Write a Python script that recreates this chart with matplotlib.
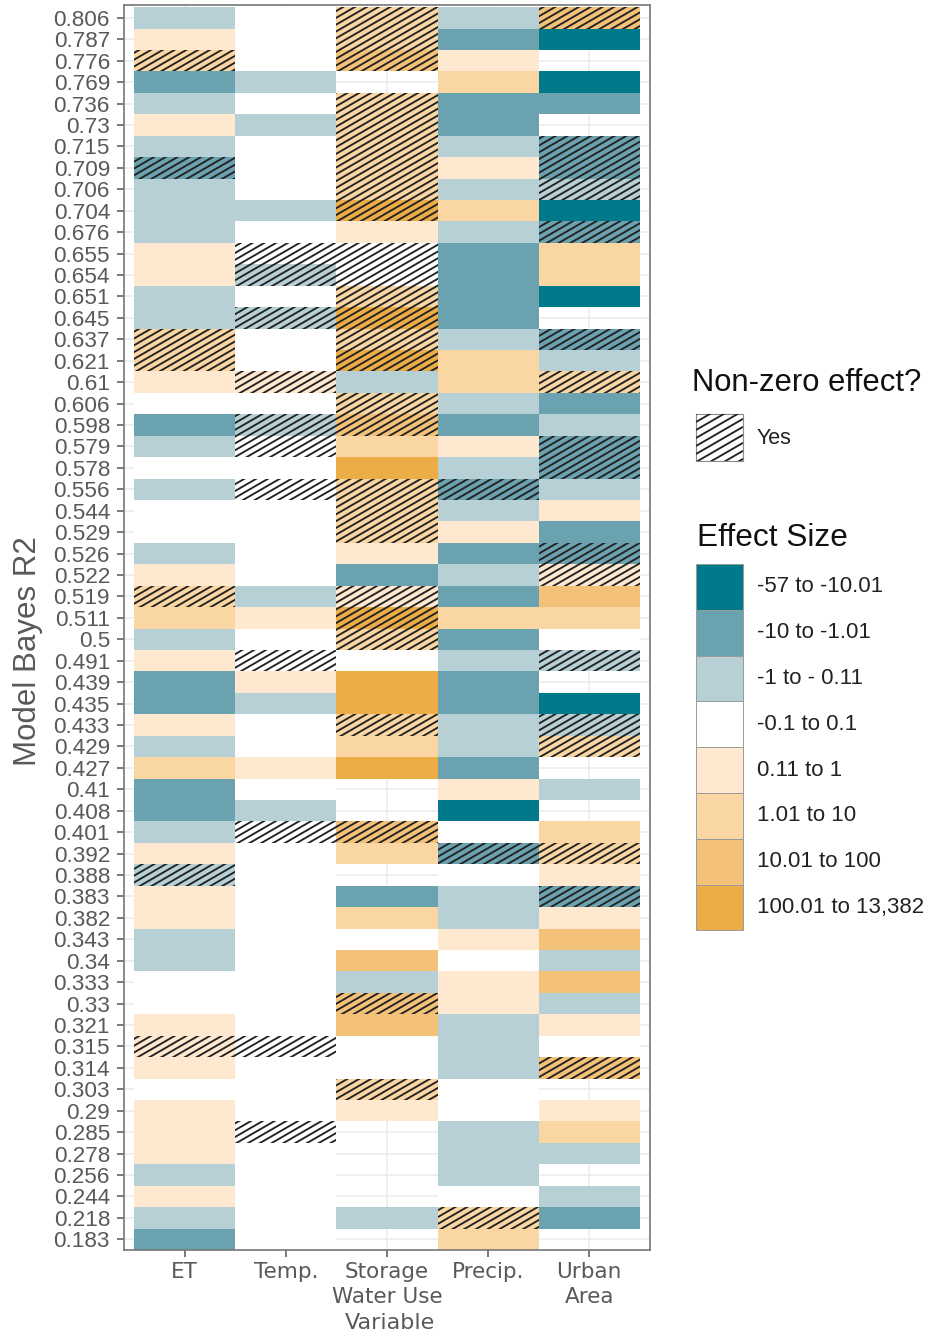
import numpy as np
import matplotlib
matplotlib.use("Agg")
import matplotlib.pyplot as plt
from matplotlib.colors import ListedColormap, BoundaryNorm
from matplotlib.collections import LineCollection
from matplotlib.patches import Rectangle, PathPatch
from matplotlib.path import Path

plt.rcParams['font.family'] = ['Liberation Sans', 'DejaVu Sans']

# ---------------- data ----------------
r2_labels = ['0.806', '0.787', '0.776', '0.769', '0.736', '0.73', '0.715', '0.709', '0.706', '0.704',
             '0.676', '0.655', '0.654', '0.651', '0.645', '0.637', '0.621', '0.61', '0.606', '0.598',
             '0.579', '0.578', '0.556', '0.544', '0.529', '0.526', '0.522', '0.519', '0.511', '0.5',
             '0.491', '0.439', '0.435', '0.433', '0.429', '0.427', '0.41', '0.408', '0.401', '0.392',
             '0.388', '0.383', '0.382', '0.343', '0.34', '0.333', '0.33', '0.321', '0.315', '0.314',
             '0.303', '0.29', '0.285', '0.278', '0.256', '0.244', '0.218', '0.183']

variables = ['ET', 'Temp.', 'Storage\nWater Use', 'Precip.', 'Urban\nArea']

bin_labels = ['-57 to -10.01', '-10 to -1.01', '-1 to - 0.11', '-0.1 to 0.1',
              '0.11 to 1', '1.01 to 10', '10.01 to 100', '100.01 to 13,382']
bin_colors = ['#00798A', '#6BA2B0', '#B6D0D5', '#FFFFFF',
              '#FFE8D0', '#FAD6A3', '#F4C178', '#EDAD46']

N = None  # no model estimate
# effect-size bin index per model (top row = highest R2)
et_bin = [2, 4, 5, 1, 2, 4, 2, 1, 2, 2, 2, 4, 4, 2, 2, 5, 5, 4, 3, 1,
          2, 3, 2, 3, 3, 2, 4, 5, 5, 2, 4, 1, 1, 4, 2, 5, 1, 1, 2, 4,
          2, 4, 4, 2, 2, 3, 3, 4, 4, 4, 3, 4, 4, 4, 2, 4, 2, 1]
temp_bin = [3, 3, 3, 2, 3, 2, 3, 3, 3, 2, 3, 3, 2, 3, 2, 3, 3, 4, 3, 2,
            3, 3, 3, 3, 3, 3, 3, 2, 4, 3, 3, 4, 2, 3, 3, 4, 3, 2, 3, 3,
            3, 3, 3, 3, 3, 3, 3, 3, 3, 3, 3, 3, 3, 3, 3, 3, 3, 3]
storage_bin = [5, 5, 6, N, 5, 5, 5, 5, 5, 7, 4, 3, 3, 5, 7, 5, 7, 2, 5, 6,
               5, 7, 5, 5, 5, 4, 1, 4, 7, 5, 3, 7, 7, 5, 5, 7, N, N, 6, 5,
               N, 1, 5, 3, 6, 2, 6, 6, 3, 3, 5, 4, N, N, N, N, 2, N]
precip_bin = [2, 1, 4, 5, 1, 1, 2, 4, 2, 5, 2, 1, 1, 1, 1, 2, 5, 5, 2, 1,
              4, 2, 1, 2, 4, 1, 2, 1, 5, 1, 2, 1, 1, 2, 2, 1, 4, 0, 3, 1,
              3, 2, 2, 4, 3, 4, 4, 2, 2, 2, 3, 3, 2, 2, 2, 3, 5, 5]
urban_bin = [6, 0, N, 0, 1, N, 1, 1, 2, 0, 1, 5, 5, 0, N, 1, 2, 5, 1, 2,
             1, 1, 2, 4, 1, 1, 4, 6, 5, 3, 2, N, 0, 2, 5, N, 2, N, 5, 5,
             4, 1, 4, 6, 2, 6, 2, 4, 3, 6, N, 4, 5, 2, N, 2, 1, N]

# non-zero effect flags (1 = Yes)
et_nonzero = [0, 0, 1, 0, 0, 0, 0, 1, 0, 0, 0, 0, 0, 0, 0, 1, 1, 0, 0, 0,
              0, 0, 0, 0, 0, 0, 0, 1, 0, 0, 0, 0, 0, 0, 0, 0, 0, 0, 0, 0,
              1, 0, 0, 0, 0, 0, 0, 0, 1, 0, 0, 0, 0, 0, 0, 0, 0, 0]
temp_nonzero = [0, 0, 0, 0, 0, 0, 0, 0, 0, 0, 0, 1, 1, 0, 1, 0, 0, 1, 0, 1,
                1, 0, 1, 0, 0, 0, 0, 0, 0, 0, 1, 0, 0, 0, 0, 0, 0, 0, 1, 0,
                0, 0, 0, 0, 0, 0, 0, 0, 1, 0, 0, 0, 1, 0, 0, 0, 0, 0]
storage_nonzero = [1, 1, 1, 0, 1, 1, 1, 1, 1, 1, 0, 1, 1, 1, 1, 1, 1, 0, 1, 1,
                   0, 0, 1, 1, 1, 0, 0, 1, 1, 1, 0, 0, 0, 1, 0, 0, 0, 0, 1, 0,
                   0, 0, 0, 0, 0, 0, 1, 0, 0, 0, 1, 0, 0, 0, 0, 0, 0, 0]
precip_nonzero = [0, 0, 0, 0, 0, 0, 0, 0, 0, 0, 0, 0, 0, 0, 0, 0, 0, 0, 0, 0,
                  0, 0, 1, 0, 0, 0, 0, 0, 0, 0, 0, 0, 0, 0, 0, 0, 0, 0, 0, 1,
                  0, 0, 0, 0, 0, 0, 0, 0, 0, 0, 0, 0, 0, 0, 0, 0, 1, 0]
urban_nonzero = [1, 0, 0, 0, 0, 0, 1, 1, 1, 0, 1, 0, 0, 0, 0, 1, 0, 1, 0, 0,
                 1, 1, 0, 0, 0, 1, 1, 0, 0, 0, 1, 0, 0, 1, 1, 0, 0, 0, 0, 1,
                 0, 1, 0, 0, 0, 0, 0, 0, 0, 1, 0, 0, 0, 0, 0, 0, 0, 0]

bins_by_var = [et_bin, temp_bin, storage_bin, precip_bin, urban_bin]
nonzero_by_var = [et_nonzero, temp_nonzero, storage_nonzero, precip_nonzero, urban_nonzero]

# ---------------- figure ----------------
W, H, DPI = 940, 1342, 100
fig = plt.figure(figsize=(W / DPI, H / DPI), dpi=DPI)
fig.patch.set_facecolor('white')

ax_l, ax_r, ax_t, ax_b = 124, 650, 5, 1250
ax = fig.add_axes([ax_l / W, 1 - ax_b / H, (ax_r - ax_l) / W, (ax_b - ax_t) / H])

nrow = len(r2_labels)
ncol = len(variables)
Z = np.array([[np.nan if v is None else v for v in col] for col in bins_by_var], dtype=float).T
Zm = np.ma.masked_invalid(Z[::-1])  # bottom row first

xlo, xhi = 0.4, ncol + 0.6
ylo, yhi = -0.5, nrow - 0.4
ax.set_xlim(xlo, xhi)
ax.set_ylim(ylo, yhi)

# grid (ggplot theme_bw style)
ax.set_axisbelow(True)
ax.grid(True, color='#EBEBEB', linewidth=1.1, zorder=0)

cmap = ListedColormap(bin_colors)
norm = BoundaryNorm(np.arange(-0.5, len(bin_colors) + 0.5), len(bin_colors))
xe = np.arange(0.5, ncol + 1.0, 1.0)
ye = np.arange(-0.5, nrow, 1.0)
ax.pcolormesh(xe, ye, Zm, cmap=cmap, norm=norm, edgecolors='none',
              antialiased=False, zorder=1)

# hatch clip region built from non-zero cells
verts, codes = [], []
for j, flags in enumerate(nonzero_by_var):
    for i, f in enumerate(flags):
        if f:
            x0, x1 = j + 0.5, j + 1.5
            yc = nrow - 1 - i
            y0, y1 = yc - 0.5, yc + 0.5
            verts += [(x0, y0), (x1, y0), (x1, y1), (x0, y1), (x0, y0)]
            codes += [Path.MOVETO, Path.LINETO, Path.LINETO, Path.LINETO, Path.CLOSEPOLY]
clip_patch = PathPatch(Path(verts, codes), transform=ax.transData,
                       facecolor='none', edgecolor='none')

HATCH_COL, HATCH_LW, HATCH_SP = '#222222', 1.35, 6.8
ppx = (ax_r - ax_l) / (xhi - xlo)
ppy = (ax_b - ax_t) / (yhi - ylo)
ang = np.tan(np.deg2rad(30))
m = ang * ppx / ppy
dy = HATCH_SP / ppy
cs = np.arange(ylo - m * (xhi - xlo) - 1, yhi + 1, dy)
segs = [[(xlo, c), (xhi, c + m * (xhi - xlo))] for c in cs]
lc = LineCollection(segs, colors=HATCH_COL, linewidths=HATCH_LW, zorder=2)
ax.add_collection(lc)
lc.set_clip_path(clip_patch)

# axes styling
ax.set_yticks(np.arange(nrow))
ax.set_yticklabels(r2_labels[::-1])
ax.set_xticks(np.arange(1, ncol + 1))
ax.set_xticklabels(variables, family=['DejaVu Sans'], fontsize=15.5,
                   color='#595959', linespacing=1.3, va='top')
ax.tick_params(axis='y', labelsize=16.2, labelcolor='#595959', length=5,
               width=1.1, color='#555555', pad=5)
ax.tick_params(axis='x', length=5, width=1.1, color='#555555', pad=3.5)
for s in ax.spines.values():
    s.set_color('#777777')
    s.set_linewidth(1.2)
    s.set_zorder(5)

fig.text(390 / W, 1 - 1323 / H, 'Variable', ha='center', va='center',
         family=['DejaVu Sans'], fontsize=16, color='#595959')
fig.text(28 / W, 1 - 651 / H, 'Model Bayes R2', ha='center', va='center',
         rotation=90, fontsize=22.5, color='#595959')

# ---------------- legends ----------------
lax = fig.add_axes([0, 0, 1, 1], zorder=10)
lax.set_xlim(0, W)
lax.set_ylim(H, 0)
lax.axis('off')
lax.patch.set_alpha(0)

lax.text(692, 383, 'Non-zero effect?', fontsize=22.3, color='#111111',
         ha='left', va='center')
kx, ky, ks = 696, 414, 47
key = Rectangle((kx, ky), ks, ks, facecolor='white', edgecolor='#8A8A8A',
                linewidth=0.8, zorder=1)
lax.add_patch(key)
kclip = Rectangle((kx, ky), ks, ks, transform=lax.transData)
ksegs = [[(kx, c), (kx + ks, c - ang * ks)]
         for c in np.arange(ky, ky + ks + ang * ks + 8, 8.0)]
klc = LineCollection(ksegs, colors=HATCH_COL, linewidths=HATCH_LW, zorder=2)
lax.add_collection(klc)
klc.set_clip_path(kclip)
lax.text(757, 438, 'Yes', fontsize=15.5, color='#222222', ha='left', va='center')

lax.text(697, 538, 'Effect Size', fontsize=22.8, color='#111111', ha='left', va='center')
kh = 45.8
for k, (lab, col) in enumerate(zip(bin_labels, bin_colors)):
    y0 = 564 + k * kh
    lax.add_patch(Rectangle((kx, y0), ks, kh, facecolor=col, edgecolor='#9A9A9A',
                            linewidth=0.7, zorder=1))
    lax.text(757, y0 + kh / 2, lab, fontsize=16, color='#222222',
             ha='left', va='center')

fig.savefig('out.png', dpi=DPI, facecolor='white')
